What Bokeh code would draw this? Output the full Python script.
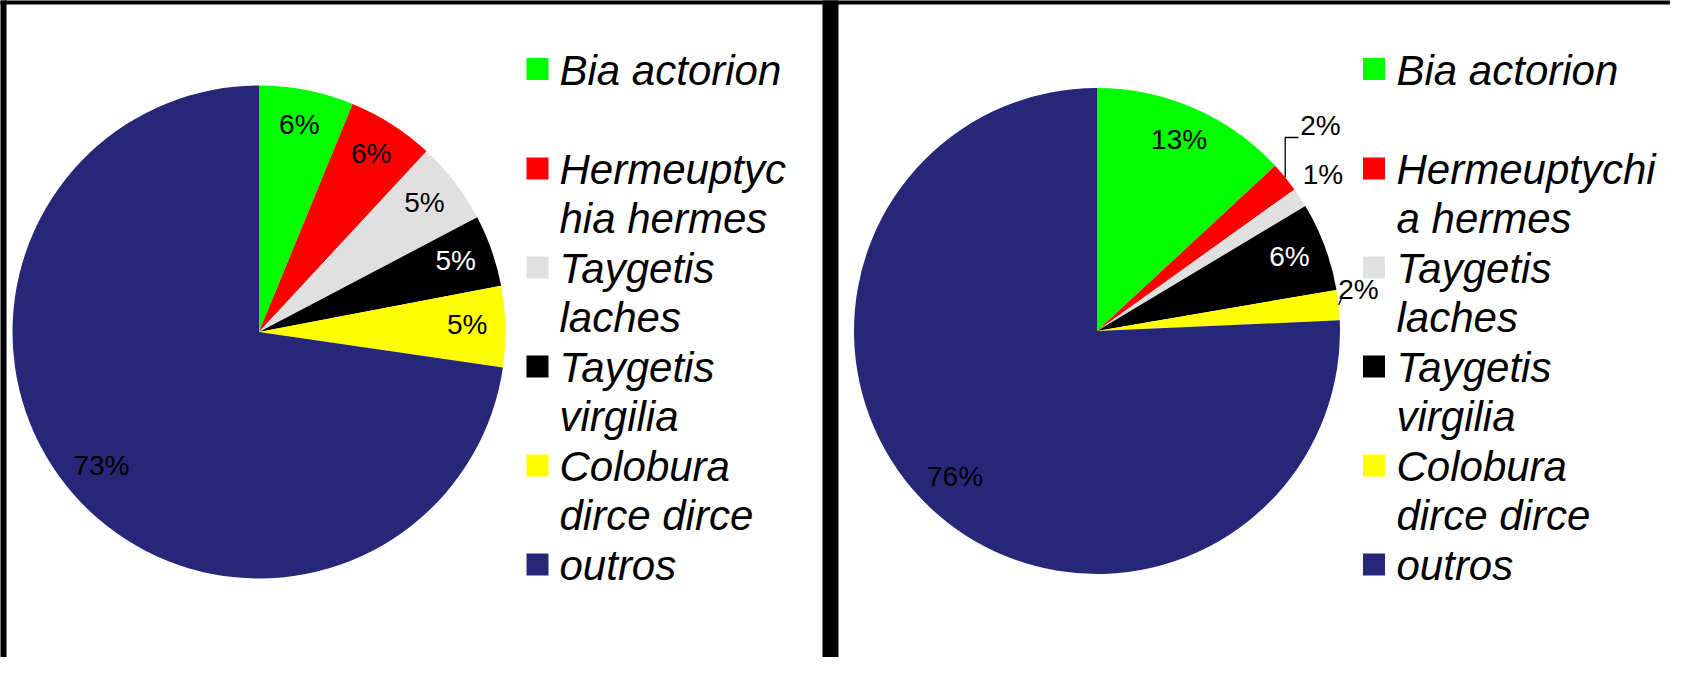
import math
from bokeh.plotting import figure
from bokeh.models import Range1d, ColumnDataSource
from bokeh.core.properties import value
from bokeh.embed import file_html
from bokeh.resources import INLINE

# ---------------- data ----------------
categories = ["Bia actorion", "Hermeuptychia hermes", "Taygetis laches",
              "Taygetis virgilia", "Colobura dirce dirce", "outros"]
legend_lines_left = [["Bia actorion"], ["Hermeuptyc", "hia hermes"], ["Taygetis", "laches"],
                     ["Taygetis", "virgilia"], ["Colobura", "dirce dirce"], ["outros"]]
legend_lines_right = [["Bia actorion"], ["Hermeuptychi", "a hermes"], ["Taygetis", "laches"],
                      ["Taygetis", "virgilia"], ["Colobura", "dirce dirce"], ["outros"]]
colors = ["#00FF00", "#FF0000", "#E0E0E0", "#000000", "#FFFF00", "#27277A"]
values_left = [6.2, 5.7, 5.4, 4.7, 5.3, 72.7]
values_right = [13.1, 2.0, 1.3, 5.9, 2.0, 75.7]

# ---------------- layout ----------------
W, H = 1670, 657
TXT_SHIFT = 13  # correction between requested and rendered text baseline


def X(px):
    return px


def Y(py):
    return H - py


p = figure(width=W, height=H, output_backend="svg", toolbar_location=None,
           x_range=Range1d(0, W), y_range=Range1d(0, H), min_border=0)
p.axis.visible = False
p.grid.visible = False
p.outline_line_color = None
p.background_fill_color = "white"
p.border_fill_color = "white"

# panel frames: top strip, left strip, divider between the two panels
p.quad(left=[X(-20), X(-20), X(822)], right=[X(1720), X(6), X(838)],
       bottom=[Y(4), Y(700), Y(700)], top=[Y(-20), Y(-20), Y(-20)],
       fill_color="black", line_color=None)

LABEL_FONT = value("Liberation Sans")


def draw_panel(vals, cx, cy, r, legend_lines, sq_x, txt_x, outside):
    total = sum(vals)
    cum = 0.0
    starts, ends, mids = [], [], []
    for v in vals:
        c0 = cum / total
        cum += v
        c1 = cum / total
        starts.append(math.pi / 2 - 2 * math.pi * c0)
        ends.append(math.pi / 2 - 2 * math.pi * c1)
        mids.append((c0 + c1) / 2 * 2 * math.pi)  # angle clockwise from top
    src = ColumnDataSource(dict(x=[X(cx)] * len(vals), y=[Y(cy)] * len(vals),
                                start=starts, end=ends, color=colors))
    p.wedge(x="x", y="y", radius=r, start_angle="start", end_angle="end",
            direction="clock", fill_color="color", line_color=None, source=src)

    # percentage labels
    lx, ly, lt, lc = [], [], [], []
    for i, v in enumerate(vals):
        pct = "%d%%" % round(v / total * 100)
        a = mids[i]
        if i in outside:
            px, py = outside[i]
        else:
            px = cx + 0.845 * r * math.sin(a)
            py = cy - 0.845 * r * math.cos(a)
        lx.append(X(px))
        ly.append(Y(py + 10 - TXT_SHIFT))
        lt.append(pct)
        lc.append("white" if colors[i] == "#000000" else "black")
    p.text(x=lx, y=ly, text=lt, text_color=lc, text_font=LABEL_FONT,
           text_font_size="28px", text_align="center", text_baseline="alphabetic")

    # legend
    centers = [68.5, 168, 267, 366, 465, 564]
    p.rect(x=[X(sq_x)] * 6, y=[Y(c) for c in centers], width=22, height=22,
           fill_color=colors, line_color=None)
    tx, ty, tt = [], [], []
    for c, lines in zip(centers, legend_lines):
        for j, line in enumerate(lines):
            tx.append(X(txt_x))
            ty.append(Y(c + 14 + 49 * j - TXT_SHIFT))
            tt.append(line)
    p.text(x=tx, y=ty, text=tt, text_color="black", text_font=LABEL_FONT,
           text_font_style="italic", text_font_size="42px",
           text_align="left", text_baseline="alphabetic")
    return mids


# left panel
draw_panel(values_left, 258.5, 331.5, 246.5, legend_lines_left, 537, 559, {})

# right panel
rcx, rcy, rr = 1096.5, 330.5, 243
mids_r = draw_panel(values_right, rcx, rcy, rr, legend_lines_right, 1373.5, 1396,
                    {1: (1320, 128), 2: (1322.5, 177), 4: (1358, 292)})

# leader lines for outside labels
a = mids_r[1]
sx, sy = rcx + rr * math.sin(a), rcy - rr * math.cos(a)
p.line(x=[X(sx), X(sx), X(1298)], y=[Y(sy), Y(137), Y(137)],
       line_color="black", line_width=1.3)
a = mids_r[4]
sx, sy = rcx + rr * math.sin(a), rcy - rr * math.cos(a)
p.line(x=[X(sx), X(sx + 2.5)], y=[Y(sy), Y(sy - 6)], line_color="black", line_width=1.3)

open("out.html", "w").write(file_html(p, INLINE))
